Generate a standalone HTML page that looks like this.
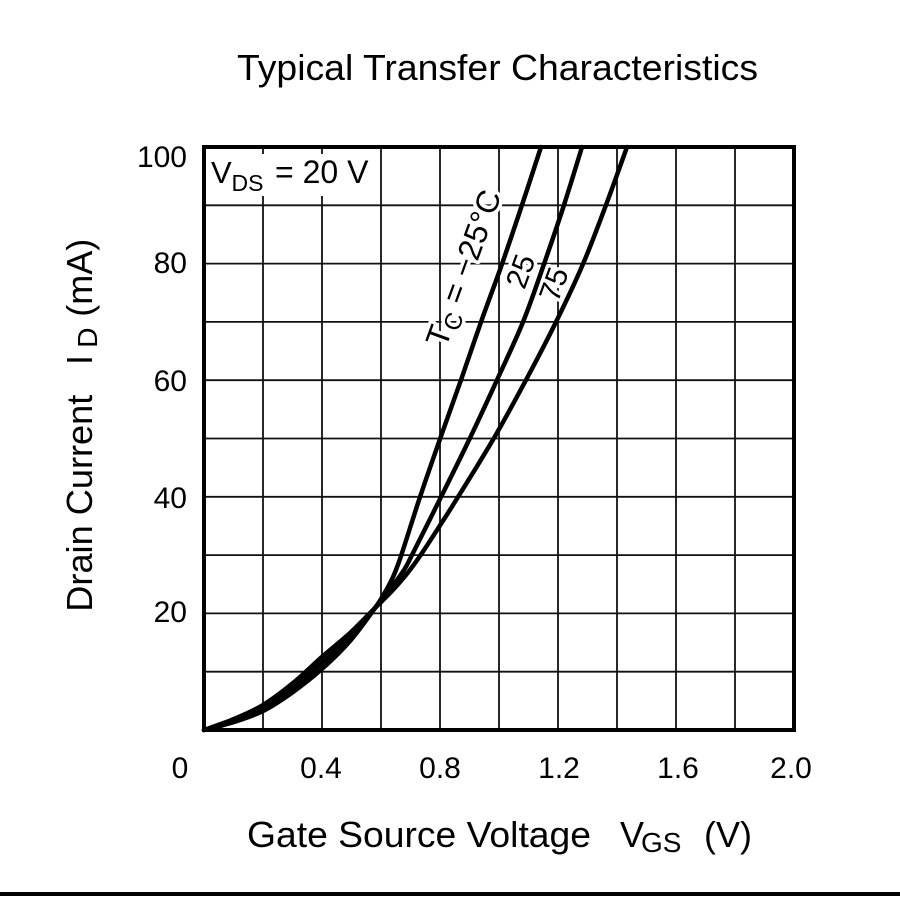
<!DOCTYPE html>
<html>
<head>
<meta charset="utf-8">
<style>
  html,body{margin:0;padding:0;background:#fff;}
  svg{display:block;}
  text{font-family:"Liberation Sans", Arial, sans-serif; fill:#000;}
  .halo{stroke:#fff;stroke-width:7px;paint-order:stroke;stroke-linejoin:round;}
</style>
</head>
<body>
<svg width="900" height="900" viewBox="0 0 900 900" xmlns="http://www.w3.org/2000/svg">
  <rect x="0" y="0" width="900" height="900" fill="#fff"/>

  <!-- Title -->
  <text x="237" y="80" font-size="36" textLength="521" lengthAdjust="spacingAndGlyphs">Typical Transfer Characteristics</text>

  <!-- Grid -->
  <g stroke="#111" stroke-width="1.8">
    <line x1="263" y1="147" x2="263" y2="730"/>
    <line x1="322" y1="147" x2="322" y2="730"/>
    <line x1="381" y1="147" x2="381" y2="730"/>
    <line x1="440" y1="147" x2="440" y2="730"/>
    <line x1="499" y1="147" x2="499" y2="730"/>
    <line x1="558" y1="147" x2="558" y2="730"/>
    <line x1="617" y1="147" x2="617" y2="730"/>
    <line x1="676" y1="147" x2="676" y2="730"/>
    <line x1="735" y1="147" x2="735" y2="730"/>
    <line x1="204" y1="205.3" x2="794" y2="205.3"/>
    <line x1="204" y1="263.6" x2="794" y2="263.6"/>
    <line x1="204" y1="321.9" x2="794" y2="321.9"/>
    <line x1="204" y1="380.2" x2="794" y2="380.2"/>
    <line x1="204" y1="438.5" x2="794" y2="438.5"/>
    <line x1="204" y1="496.8" x2="794" y2="496.8"/>
    <line x1="204" y1="555.1" x2="794" y2="555.1"/>
    <line x1="204" y1="613.4" x2="794" y2="613.4"/>
    <line x1="204" y1="671.7" x2="794" y2="671.7"/>
  </g>

  <!-- VDS label -->
  <rect x="207" y="154" width="172" height="42" fill="#fff"/>
  <text x="211" y="183" font-size="31">V</text>
  <text x="231.5" y="191" font-size="23">DS</text>
  <text x="275" y="183" font-size="32">= 20 V</text>

  <!-- Curve labels -->
  <g transform="translate(445.8,348.8) rotate(-70)">
    <text class="halo" x="0" y="0" font-size="32">T</text>
    <text class="halo" x="19.6" y="6" font-size="24">C</text>
    <text class="halo" x="46" y="0" font-size="32">= &#8722;25°C</text>
  </g>
  <g transform="translate(530.1,274.7) rotate(-70)">
    <text class="halo" x="0" y="0" font-size="30" text-anchor="middle">25</text>
  </g>
  <g transform="translate(563.4,287.7) rotate(-70)">
    <text class="halo" x="0" y="0" font-size="30" text-anchor="middle">75</text>
  </g>

  <!-- Curves -->
  <g fill="none" stroke="#000" stroke-width="4.5" stroke-linejoin="round" stroke-linecap="round">
    <path id="cA" d="M204,730 L234,722 L263,711 L293,692 L323,668 L350,641 L375,608 L384,594 L393,577 L401,556 L420,497 L440,439 L461,380 L481,322 L502,264 L522,205 L541,147"/>
    <path id="cB" d="M204,730 L234,721 L263,708 L293,688 L323,662 L350,637 L375,608 L391,588 L404,570 L412,555 L441,497 L470,438 L497,380 L523,322 L544,264 L564,205 L582,147"/>
    <path id="cC" d="M204,730 L234,719 L263,705 L293,683 L323,656 L350,633 L375,608 L391,592 L406,575 L420,556 L439,527 L458,497 L494,438 L526,380 L556,322 L583,264 L606,205 L627,147"/>
  </g>

  <!-- Frame -->
  <rect x="204" y="147" width="590" height="583" fill="none" stroke="#000" stroke-width="4"/>

  <!-- Y tick labels -->
  <g font-size="30" text-anchor="end">
    <text x="187" y="167">100</text>
    <text x="187" y="273">80</text>
    <text x="187" y="391">60</text>
    <text x="187" y="508">40</text>
    <text x="187" y="622">20</text>
  </g>

  <!-- X tick labels -->
  <g font-size="30" text-anchor="middle">
    <text x="180" y="778">0</text>
    <text x="321" y="778">0.4</text>
    <text x="440" y="778">0.8</text>
    <text x="559" y="778">1.2</text>
    <text x="678" y="778">1.6</text>
    <text x="791" y="778">2.0</text>
  </g>

  <!-- X axis title -->
  <text x="247" y="847" font-size="36" textLength="344" lengthAdjust="spacingAndGlyphs">Gate Source Voltage</text>
  <text x="620" y="847" font-size="36">V</text>
  <text x="641" y="852" font-size="28">GS</text>
  <text x="704" y="847" font-size="36">(V)</text>

  <!-- Y axis title -->
  <g transform="translate(92,611.7) rotate(-90)">
    <text x="0" y="0" font-size="36" textLength="217" lengthAdjust="spacingAndGlyphs">Drain Current</text>
    <text x="246.7" y="0" font-size="36">I</text>
    <text x="264" y="5" font-size="28">D</text>
    <text x="295" y="0" font-size="36">(mA)</text>
  </g>

  <!-- Bottom rule -->
  <rect x="0" y="892" width="900" height="4" fill="#000"/>
</svg>
<script>
(function(){
  function smooth(el){
    var d = el.getAttribute('d');
    var nums = d.replace(/[ML]/g,' ').trim().split(/[\s,]+/).map(Number);
    var p = [];
    for (var i=0;i<nums.length;i+=2) p.push([nums[i],nums[i+1]]);
    var out = 'M'+p[0][0]+','+p[0][1];
    for (var i=0;i<p.length-1;i++){
      var p0 = p[i-1]||p[i], p1=p[i], p2=p[i+1], p3=p[i+2]||p[i+1];
      var c1x = p1[0]+(p2[0]-p0[0])/6, c1y = p1[1]+(p2[1]-p0[1])/6;
      var c2x = p2[0]-(p3[0]-p1[0])/6, c2y = p2[1]-(p3[1]-p1[1])/6;
      out += ' C'+c1x.toFixed(2)+','+c1y.toFixed(2)+' '+c2x.toFixed(2)+','+c2y.toFixed(2)+' '+p2[0]+','+p2[1];
    }
    el.setAttribute('d', out);
  }
  ['cA','cB','cC'].forEach(function(id){ var e=document.getElementById(id); if(e) smooth(e); });
})();
</script>
</body>
</html>
